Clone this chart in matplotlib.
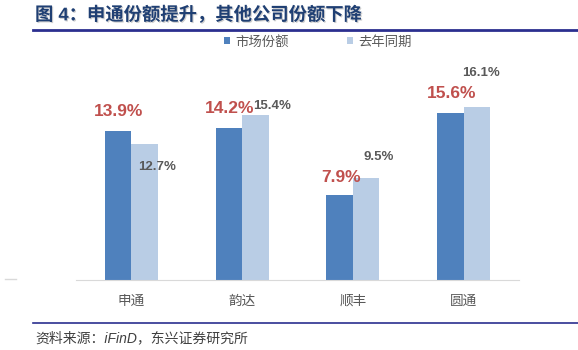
import matplotlib
matplotlib.use("Agg")
from matplotlib import pyplot as plt
import matplotlib.patheffects as pe
import numpy as np

plt.rcParams['font.family'] = ['Liberation Sans', 'Noto Sans CJK SC', 'DejaVu Sans']

## datos
companies = ['申通', '韵达', '顺丰', '圆通']
share_now = [13.9, 14.2, 7.9, 15.6]
share_last = [12.7, 15.4, 9.5, 16.1]
series_names = ['市场份额', '去年同期']

dark = '#4F81BD'
light = '#B9CDE5'
red = '#C0504D'
gray = '#595959'
navy = '#2B2F8F'

W, H = 578, 350
fig = plt.figure(figsize=(W / 100, H / 100), dpi=100)

# ejes en pixeles
x0, x1, yb, yt = 76, 519, 280, 87
ax = fig.add_axes([x0 / W, (H - yb) / H, (x1 - x0) / W, (yb - yt) / H])
x = np.arange(len(companies))
bw = 0.24
ax.bar(x - bw / 2, share_now, bw, color=dark, label=series_names[0])
ax.bar(x + bw / 2, share_last, bw, color=light, label=series_names[1])
ax.set_xlim(-0.5, 3.5)
ax.set_ylim(0, 18)
for s in ax.spines.values():
    s.set_visible(False)
ax.spines['bottom'].set_visible(True)
ax.spines['bottom'].set_color('#D9D9D9')
ax.set_yticks([])
ax.set_xticks(x)
ax.set_xticklabels(companies, color=gray, fontsize=9.8)
ax.tick_params(axis='x', length=0, pad=10)

## etiquetas
red_off = [(-0.12, 1.77), (-0.113, 1.75), (-0.11, 1.7), (-0.11, 1.75)]
gray_off = [(0.236, -2.16), (0.27, 0.8), (0.235, 2.0), (0.16, 3.2)]
for i, v in enumerate(share_now):
    dx, dy = red_off[i]
    ax.text(i + dx, v + dy, f'{v}%', color=red, fontsize=12.5, fontweight='bold',
            ha='center', va='center', clip_on=False)
for i, v in enumerate(share_last):
    dx, dy = gray_off[i]
    ax.text(i + dx, v + dy, f'{v}%', color=gray, fontsize=9.5, fontweight='bold',
            ha='center', va='center', clip_on=False)

leg = fig.legend(loc='center', bbox_to_anchor=(318 / W, 1 - 42 / H), ncol=2, frameon=False,
                 fontsize=9.6, handlelength=0.42, handleheight=0.42, handletextpad=0.4,
                 columnspacing=4.4)
for t in leg.get_texts():
    t.set_color(gray)

## titulo y fuente
fig.text(35 / W, 1 - 15 / H, '图 4：申通份额提升，其他公司份额下降', fontsize=13.2, fontweight='bold',
         color='#1F3F73', va='center', ha='left',
         path_effects=[pe.withSimplePatchShadow(offset=(0.8, -0.8), shadow_rgbFace='#B0B0B0', alpha=0.6)])
fig.add_artist(plt.Line2D([33 / W, 1], [1 - 30 / H, 1 - 30 / H], color=navy, lw=2))
fig.add_artist(plt.Line2D([33 / W, 1], [1 - 323 / H, 1 - 323 / H], color=navy, lw=1.2))
fig.add_artist(plt.Line2D([5 / W, 16 / W], [1 - 279 / H, 1 - 279 / H], color='#D9D9D9', lw=1))
fig.text(35 / W, 1 - 338 / H, '资料来源：iFinD，东兴证券研究所', fontsize=10, style='italic',
         color='#404040', va='center', ha='left')

fig.savefig('out.png', dpi=100)
